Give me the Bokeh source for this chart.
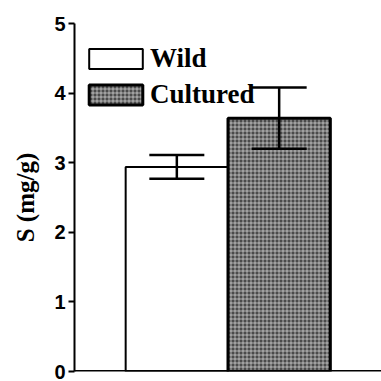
from bokeh.plotting import figure
from bokeh.models import ColumnDataSource, Whisker, FactorRange, Legend, LegendItem, TeeHead, Span
from bokeh.embed import file_html
from bokeh.resources import INLINE

groups = ["Wild", "Cultured"]
values = [2.94, 3.64]
errors = [0.17, 0.44]
y_ticks = [0, 1, 2, 3, 4, 5]

src = ColumnDataSource(dict(
    g=groups, v=values,
    lo=[v - e for v, e in zip(values, errors)],
    hi=[v + e for v, e in zip(values, errors)],
))

p = figure(width=381, height=381, output_backend="svg", toolbar_location=None,
           x_range=FactorRange(*groups, range_padding=0.5), y_range=(0, 5),
           min_border_left=74, min_border_right=0, min_border_top=23, min_border_bottom=10)
p.outline_line_color = None
p.grid.visible = False
p.background_fill_color = "white"

wild = p.vbar(x=[groups[0]], top=[values[0]], width=1.0, fill_color="white",
              line_color="black", line_width=2)
cult = p.vbar(x=[groups[1]], top=[values[1]], width=1.0, fill_color="#4a4a4a",
              hatch_pattern="cross", hatch_color="white", hatch_scale=4, hatch_weight=1,
              hatch_alpha=0.55, line_color="black", line_width=3)

wh = Whisker(source=src, base="g", upper="hi", lower="lo", line_width=2.5, line_color="black",
             level="overlay",
             upper_head=TeeHead(size=55, line_width=2.5), lower_head=TeeHead(size=55, line_width=2.5))
p.add_layout(wh)

p.add_layout(Span(location=y_ticks[0], dimension="width", line_color="black", line_width=3))

legend = Legend(items=[LegendItem(label=groups[0], renderers=[wild]),
                       LegendItem(label=groups[1], renderers=[cult])],
                location=(8, 261), glyph_width=67, glyph_height=25, spacing=5,
                padding=0, margin=0, border_line_alpha=0, background_fill_alpha=0,
                label_text_font="Liberation Serif", label_text_font_style="bold",
                label_text_color="black",
                label_text_font_size="27px", label_standoff=1, label_height=25)
p.add_layout(legend)

p.xaxis.visible = False

p.yaxis.ticker = y_ticks
p.yaxis.axis_label = "S (mg/g)"
p.yaxis.axis_label_text_font = "Liberation Serif"
p.yaxis.axis_label_text_font_style = "bold"
p.yaxis.axis_label_text_font_size = "25px"
p.yaxis.axis_label_text_color = "black"
p.yaxis.axis_label_standoff = 12
p.yaxis.major_label_text_font = "Liberation Sans"
p.yaxis.major_label_text_font_style = "bold"
p.yaxis.major_label_text_font_size = "20px"
p.yaxis.major_label_text_color = "black"
p.yaxis.major_label_standoff = 3
p.yaxis.major_tick_out = 6
p.yaxis.major_tick_in = 0
p.yaxis.minor_tick_line_color = None
p.yaxis.axis_line_width = 2
p.yaxis.axis_line_color = "black"
p.yaxis.major_tick_line_width = 2
p.yaxis.major_tick_line_color = "black"

open("out.html", "w").write(file_html(p, INLINE))
